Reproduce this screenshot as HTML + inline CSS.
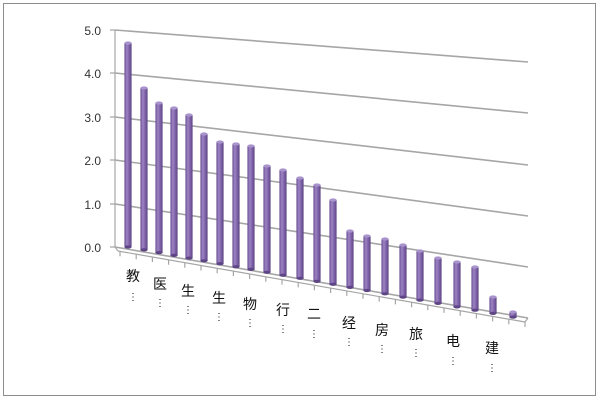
<!DOCTYPE html>
<html><head><meta charset="utf-8"><style>
html,body{margin:0;padding:0;background:#fff;}
svg{display:block;}
text{font-family:"Liberation Sans","Noto Sans CJK SC",sans-serif;}
</style></head><body>
<svg width="600" height="400" viewBox="0 0 600 400" xmlns="http://www.w3.org/2000/svg">
<defs>
<linearGradient id="cyl" x1="0" x2="1" y1="0" y2="0">
<stop offset="0" stop-color="#6a4f92"/>
<stop offset="0.35" stop-color="#9d84c4"/>
<stop offset="0.6" stop-color="#8467ad"/>
<stop offset="1" stop-color="#5e4585"/>
</linearGradient>
<g id="c"><rect x="-3.6" y="0" width="7.2" height="1" fill="url(#cyl)"/></g>
</defs>
<rect x="3.5" y="3.5" width="592" height="392" fill="#fff" stroke="#8c8c8c"/>
<g stroke="#a6a6a6" stroke-width="1.6" fill="none">
<line x1="115" y1="30" x2="528" y2="62"/>
<line x1="115" y1="73" x2="528" y2="113"/>
<line x1="115" y1="117" x2="528" y2="165"/>
<line x1="115" y1="160" x2="528" y2="216"/>
<line x1="115" y1="204" x2="528" y2="267"/>
<line x1="115" y1="247" x2="528" y2="318"/>
</g>
<g stroke="#a6a6a6" stroke-width="1.2" fill="none">
<line x1="115" y1="30" x2="115" y2="247"/>
<path d="M110 30h5M110 73h5M110 117h5M110 160h5M110 204h5M110 247h5"/>
<line x1="118" y1="251" x2="525" y2="322"/>
<line x1="115" y1="247" x2="118" y2="251"/>
<line x1="528" y1="318" x2="525" y2="322"/>
<path d="M120 251.3v5M136.2 254.2v5M152.4 257v5M168.6 259.8v5M184.8 262.7v5M201 265.5v5M217.2 268.3v5M233.4 271.1v5M249.6 274v5M265.8 276.8v5M282 279.6v5M298.2 282.4v5M314.4 285.3v5M330.6 288.1v5M346.8 290.9v5M363 293.8v5M379.2 296.6v5M395.4 299.4v5M411.6 302.2v5M427.8 305.1v5M444 307.9v5M460.2 310.7v5M476.4 313.5v5M492.6 316.4v5M508.8 319.2v5M525 322v5"/>
</g>
<g font-size="12" fill="#333" text-anchor="end">
<text x="101" y="35">5.0</text><text x="101" y="78">4.0</text>
<text x="101" y="122">3.0</text><text x="101" y="165">2.0</text>
<text x="101" y="209">1.0</text><text x="101" y="252">0.0</text>
</g>
<g>
<rect x="124.4" y="43" width="7.2" height="204" fill="url(#cyl)"/><ellipse cx="128" cy="247" rx="3.6" ry="1.6" fill="#5e4585"/><ellipse cx="128" cy="43" rx="3.6" ry="1.6" fill="#a993cc"/>
<rect x="140.4" y="88" width="7.2" height="161.9" fill="url(#cyl)"/><ellipse cx="144" cy="249.9" rx="3.6" ry="1.6" fill="#5e4585"/><ellipse cx="144" cy="88" rx="3.6" ry="1.6" fill="#a993cc"/>
<rect x="155.4" y="103" width="7.2" height="149.6" fill="url(#cyl)"/><ellipse cx="159" cy="252.6" rx="3.6" ry="1.6" fill="#5e4585"/><ellipse cx="159" cy="103" rx="3.6" ry="1.6" fill="#a993cc"/>
<rect x="170.4" y="108" width="7.2" height="147.4" fill="url(#cyl)"/><ellipse cx="174" cy="255.4" rx="3.6" ry="1.6" fill="#5e4585"/><ellipse cx="174" cy="108" rx="3.6" ry="1.6" fill="#a993cc"/>
<rect x="185.4" y="115" width="7.2" height="143.1" fill="url(#cyl)"/><ellipse cx="189" cy="258.1" rx="3.6" ry="1.6" fill="#5e4585"/><ellipse cx="189" cy="115" rx="3.6" ry="1.6" fill="#a993cc"/>
<rect x="200.4" y="134" width="7.2" height="126.8" fill="url(#cyl)"/><ellipse cx="204" cy="260.8" rx="3.6" ry="1.6" fill="#5e4585"/><ellipse cx="204" cy="134" rx="3.6" ry="1.6" fill="#a993cc"/>
<rect x="216.4" y="142" width="7.2" height="121.7" fill="url(#cyl)"/><ellipse cx="220" cy="263.7" rx="3.6" ry="1.6" fill="#5e4585"/><ellipse cx="220" cy="142" rx="3.6" ry="1.6" fill="#a993cc"/>
<rect x="232.4" y="144" width="7.2" height="122.7" fill="url(#cyl)"/><ellipse cx="236" cy="266.7" rx="3.6" ry="1.6" fill="#5e4585"/><ellipse cx="236" cy="144" rx="3.6" ry="1.6" fill="#a993cc"/>
<rect x="247.4" y="146" width="7.2" height="123.4" fill="url(#cyl)"/><ellipse cx="251" cy="269.4" rx="3.6" ry="1.6" fill="#5e4585"/><ellipse cx="251" cy="146" rx="3.6" ry="1.6" fill="#a993cc"/>
<rect x="263.4" y="166" width="7.2" height="106.3" fill="url(#cyl)"/><ellipse cx="267" cy="272.3" rx="3.6" ry="1.6" fill="#5e4585"/><ellipse cx="267" cy="166" rx="3.6" ry="1.6" fill="#a993cc"/>
<rect x="279.4" y="170" width="7.2" height="105.2" fill="url(#cyl)"/><ellipse cx="283" cy="275.2" rx="3.6" ry="1.6" fill="#5e4585"/><ellipse cx="283" cy="170" rx="3.6" ry="1.6" fill="#a993cc"/>
<rect x="296.4" y="178" width="7.2" height="100.3" fill="url(#cyl)"/><ellipse cx="300" cy="278.3" rx="3.6" ry="1.6" fill="#5e4585"/><ellipse cx="300" cy="178" rx="3.6" ry="1.6" fill="#a993cc"/>
<rect x="313.4" y="185" width="7.2" height="96.4" fill="url(#cyl)"/><ellipse cx="317" cy="281.4" rx="3.6" ry="1.6" fill="#5e4585"/><ellipse cx="317" cy="185" rx="3.6" ry="1.6" fill="#a993cc"/>
<rect x="329.4" y="200" width="7.2" height="84.3" fill="url(#cyl)"/><ellipse cx="333" cy="284.3" rx="3.6" ry="1.6" fill="#5e4585"/><ellipse cx="333" cy="200" rx="3.6" ry="1.6" fill="#a993cc"/>
<rect x="346.4" y="231" width="7.2" height="56.4" fill="url(#cyl)"/><ellipse cx="350" cy="287.4" rx="3.6" ry="1.6" fill="#5e4585"/><ellipse cx="350" cy="231" rx="3.6" ry="1.6" fill="#a993cc"/>
<rect x="363.4" y="236" width="7.2" height="54.5" fill="url(#cyl)"/><ellipse cx="367" cy="290.5" rx="3.6" ry="1.6" fill="#5e4585"/><ellipse cx="367" cy="236" rx="3.6" ry="1.6" fill="#a993cc"/>
<rect x="381.4" y="239" width="7.2" height="54.8" fill="url(#cyl)"/><ellipse cx="385" cy="293.8" rx="3.6" ry="1.6" fill="#5e4585"/><ellipse cx="385" cy="239" rx="3.6" ry="1.6" fill="#a993cc"/>
<rect x="399.4" y="245" width="7.2" height="52.1" fill="url(#cyl)"/><ellipse cx="403" cy="297.1" rx="3.6" ry="1.6" fill="#5e4585"/><ellipse cx="403" cy="245" rx="3.6" ry="1.6" fill="#a993cc"/>
<rect x="416.4" y="251" width="7.2" height="49.1" fill="url(#cyl)"/><ellipse cx="420" cy="300.1" rx="3.6" ry="1.6" fill="#5e4585"/><ellipse cx="420" cy="251" rx="3.6" ry="1.6" fill="#a993cc"/>
<rect x="434.4" y="258" width="7.2" height="45.4" fill="url(#cyl)"/><ellipse cx="438" cy="303.4" rx="3.6" ry="1.6" fill="#5e4585"/><ellipse cx="438" cy="258" rx="3.6" ry="1.6" fill="#a993cc"/>
<rect x="453.4" y="262" width="7.2" height="44.9" fill="url(#cyl)"/><ellipse cx="457" cy="306.9" rx="3.6" ry="1.6" fill="#5e4585"/><ellipse cx="457" cy="262" rx="3.6" ry="1.6" fill="#a993cc"/>
<rect x="471.4" y="267" width="7.2" height="43.2" fill="url(#cyl)"/><ellipse cx="475" cy="310.2" rx="3.6" ry="1.6" fill="#5e4585"/><ellipse cx="475" cy="267" rx="3.6" ry="1.6" fill="#a993cc"/>
<rect x="489.4" y="297" width="7.2" height="16.4" fill="url(#cyl)"/><ellipse cx="493" cy="313.4" rx="3.6" ry="1.6" fill="#5e4585"/><ellipse cx="493" cy="297" rx="3.6" ry="1.6" fill="#a993cc"/>
<rect x="509.4" y="312" width="7.2" height="5.1" fill="url(#cyl)"/><ellipse cx="513" cy="317.1" rx="3.6" ry="1.6" fill="#5e4585"/><ellipse cx="513" cy="312" rx="3.6" ry="1.6" fill="#a993cc"/>
</g>
<g font-size="14" fill="#111" text-anchor="middle">
<text x="133" y="281">教</text><text x="133" y="300" font-size="10">⋮</text>
<text x="160" y="289">医</text><text x="160" y="306" font-size="10">⋮</text>
<text x="188" y="296">生</text><text x="188" y="313" font-size="10">⋮</text>
<text x="219" y="303">生</text><text x="219" y="320" font-size="10">⋮</text>
<text x="250" y="309">物</text><text x="250" y="326" font-size="10">⋮</text>
<text x="283" y="315">行</text><text x="283" y="332" font-size="10">⋮</text>
<text x="314" y="319">二</text><text x="314" y="337" font-size="10">⋮</text>
<text x="349" y="328">经</text><text x="349" y="345" font-size="10">⋮</text>
<text x="382" y="335">房</text><text x="382" y="352" font-size="10">⋮</text>
<text x="416" y="339">旅</text><text x="416" y="356" font-size="10">⋮</text>
<text x="453" y="346">电</text><text x="453" y="364" font-size="10">⋮</text>
<text x="492" y="353">建</text><text x="492" y="371" font-size="10">⋮</text>
</g>
</svg>
</body></html>
